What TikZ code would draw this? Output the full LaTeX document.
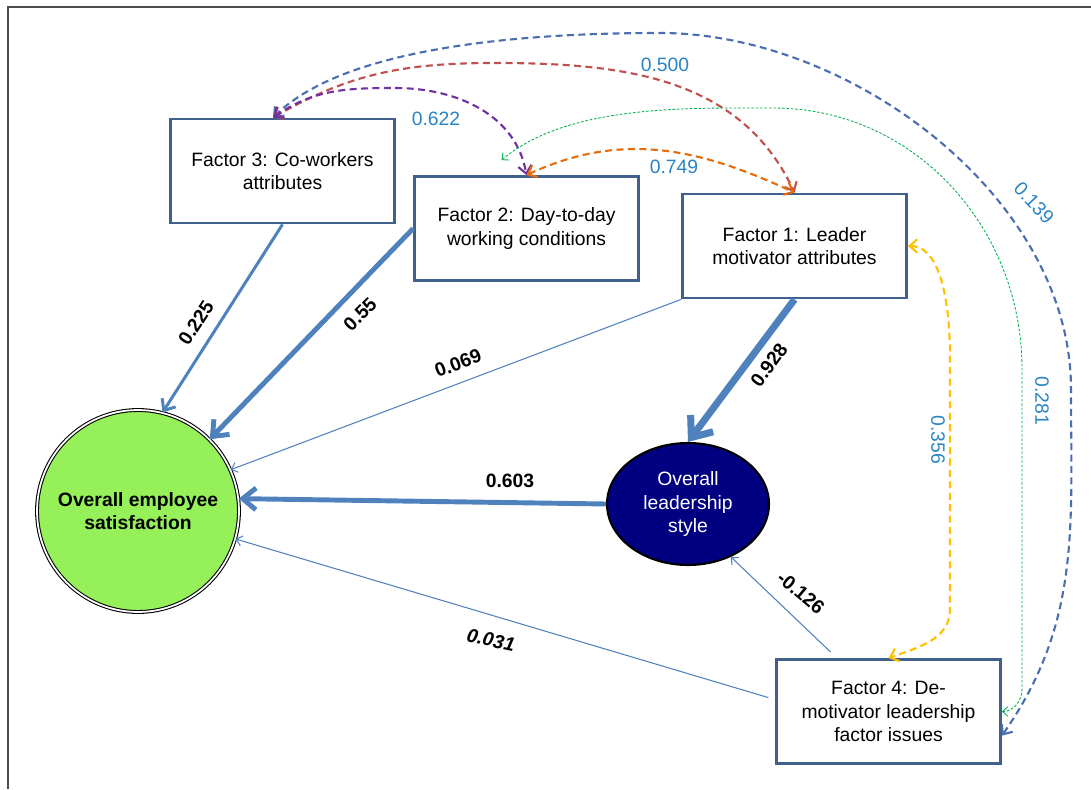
\documentclass[tikz,border=0pt]{standalone}
\usepackage{fontspec}
\setmainfont{Liberation Sans}
\usetikzlibrary{arrows.meta,shapes.geometric}
\definecolor{boxblue}{RGB}{66,96,140}
\definecolor{pathblue}{RGB}{79,129,189}
\definecolor{numblue}{RGB}{40,132,196}
\definecolor{satgreen}{RGB}{150,240,90}
\definecolor{leadnavy}{RGB}{0,0,128}
\definecolor{c139}{RGB}{74,110,176}
\definecolor{c500}{RGB}{192,80,77}
\definecolor{c622}{RGB}{112,48,160}
\definecolor{c749}{RGB}{228,108,10}
\definecolor{c281}{RGB}{0,176,80}
\definecolor{c356}{RGB}{255,192,0}
\newcommand{\figfont}{\fontsize{11}{13.5}\selectfont}
\tikzset{
  factor/.style = {rectangle, draw=boxblue, line width=1.6pt, fill=white,
    align=center, minimum width=4.48cm, minimum height=2.08cm,
    font=\figfont},% observed factor
  outcome/.style = {circle, draw=black, double=white, double distance=1pt,
    line width=0.6pt, fill=satgreen, minimum size=4.04cm, inner sep=0pt,
    align=center, font=\figfont\bfseries},% dependent variable
  mediator/.style = {ellipse, draw=black, line width=1.2pt, fill=leadnavy,
    text=white, minimum width=3.24cm, minimum height=2.44cm, inner sep=0pt,
    align=center, font=\figfont},% mediating variable
  effect/.style = {->, draw=pathblue, line width=#1},% path coefficient
  corr/.style = {<->, draw=#1, line width=1.2pt,
    dash pattern=on 4pt off 2.5pt},% correlation
  coef/.style = {font=\figfont\bfseries},
  rcoef/.style = {text=numblue, font=\figfont}
}

\begin{document}
\begin{tikzpicture}[x=0.02cm, y=0.02cm,
  >={Straight Barb[length=2pt 2, width=4pt 3]}]
\useasboundingbox (0,0) rectangle (1091,789);
\draw[black!70, line width=1.2pt] (8,0) -- (8,782) -- (1091,782);

\node[factor] (f3) at (282.5,618) {Factor 3: Co-workers\\attributes};
\node[factor] (f2) at (526.5,560.5) {Factor 2:  Day-to-day\\working conditions};
\node[factor] (f1) at (794.5,543) {Factor 1:  Leader\\motivator attributes};
\node[factor] (f4) at (888.5,77.5) {Factor 4:  De-\\motivator leadership\\factor issues};
\node[outcome] (sat) at (138,278) {Overall employee\\satisfaction};
\node[mediator] (lead) at (688,285) {Overall\\leadership\\style};

% paths
\draw[effect=1.7pt] (f3.south) -- (sat.76);
\draw[effect=2.8pt] (f2.west) -- (sat.45);
\draw[effect=0.6pt] (f1.south west) -- (sat.24);
\draw[effect=4pt] (f1.south) -- (lead.north);
\draw[effect=2.8pt] (lead.west) -- (sat.7);
\draw[effect=0.6pt, shorten <=4pt] (f4.174) -- (sat.-16);
\draw[effect=0.6pt, shorten <=5pt] (f4.134) -- (lead.-51);

\node[coef, rotate=57] (l225) at (196,466) {0.225};
\node[coef, rotate=45] (l550) at (360,475) {0.55};
\node[coef, rotate=21] (l069) at (458,426) {0.069};
\node[coef, rotate=54] (l928) at (769,424) {0.928};
\node[coef] (l603) at (510,308) {0.603};
\node[coef, rotate=-40] (l126) at (801,196) {-0.126};
\node[coef, rotate=-12, font=\figfont\bfseries\itshape] (l031) at (491,149) {0.031};

% correlations
\draw[corr=c139] (f3.100) to[out=45,in=180,looseness=0.7] (660,756)
  to[out=0,in=90,looseness=0.9] (1071,400) to[out=-90,in=55] (f4.-12);
\draw[corr=c500] (f3.100) to[out=30,in=180] (495,726)
  to[out=0,in=115] (f1.north);
\draw[corr=c622] (f3.100) to[out=35,in=180] (395,701)
  to[out=0,in=100] (f2.north);
\draw[corr=c749] (f2.north) to[out=25,in=155] (f1.north);
\draw[corr=c281, line width=0.5pt, dash pattern=on 1.5pt off 1pt]
  ([shift={(-25,15)}]f2.north) to[out=40,in=180,looseness=0.8] (773,681)
  to[out=0,in=90] (1022,420) -- (1022,100) to[out=-90,in=0] (f4.east);
\draw[corr=c356] (f1.east) to[out=0,in=90,looseness=0.8] (950,430)
  -- (950,180) to[out=-90,in=20] (f4.north);

\node[rcoef] (r500) at (665,724) {0.500};
\node[rcoef] (r622) at (436,670) {0.622};
\node[rcoef] (r749) at (674,622) {0.749};
\node[rcoef, rotate=-47] (r139) at (1034,586) {0.139};
\node[rcoef, rotate=-90] (r281) at (1042,388) {0.281};
\node[rcoef, rotate=-90] (r356) at (938,349) {0.356};
\end{tikzpicture}
\end{document}
